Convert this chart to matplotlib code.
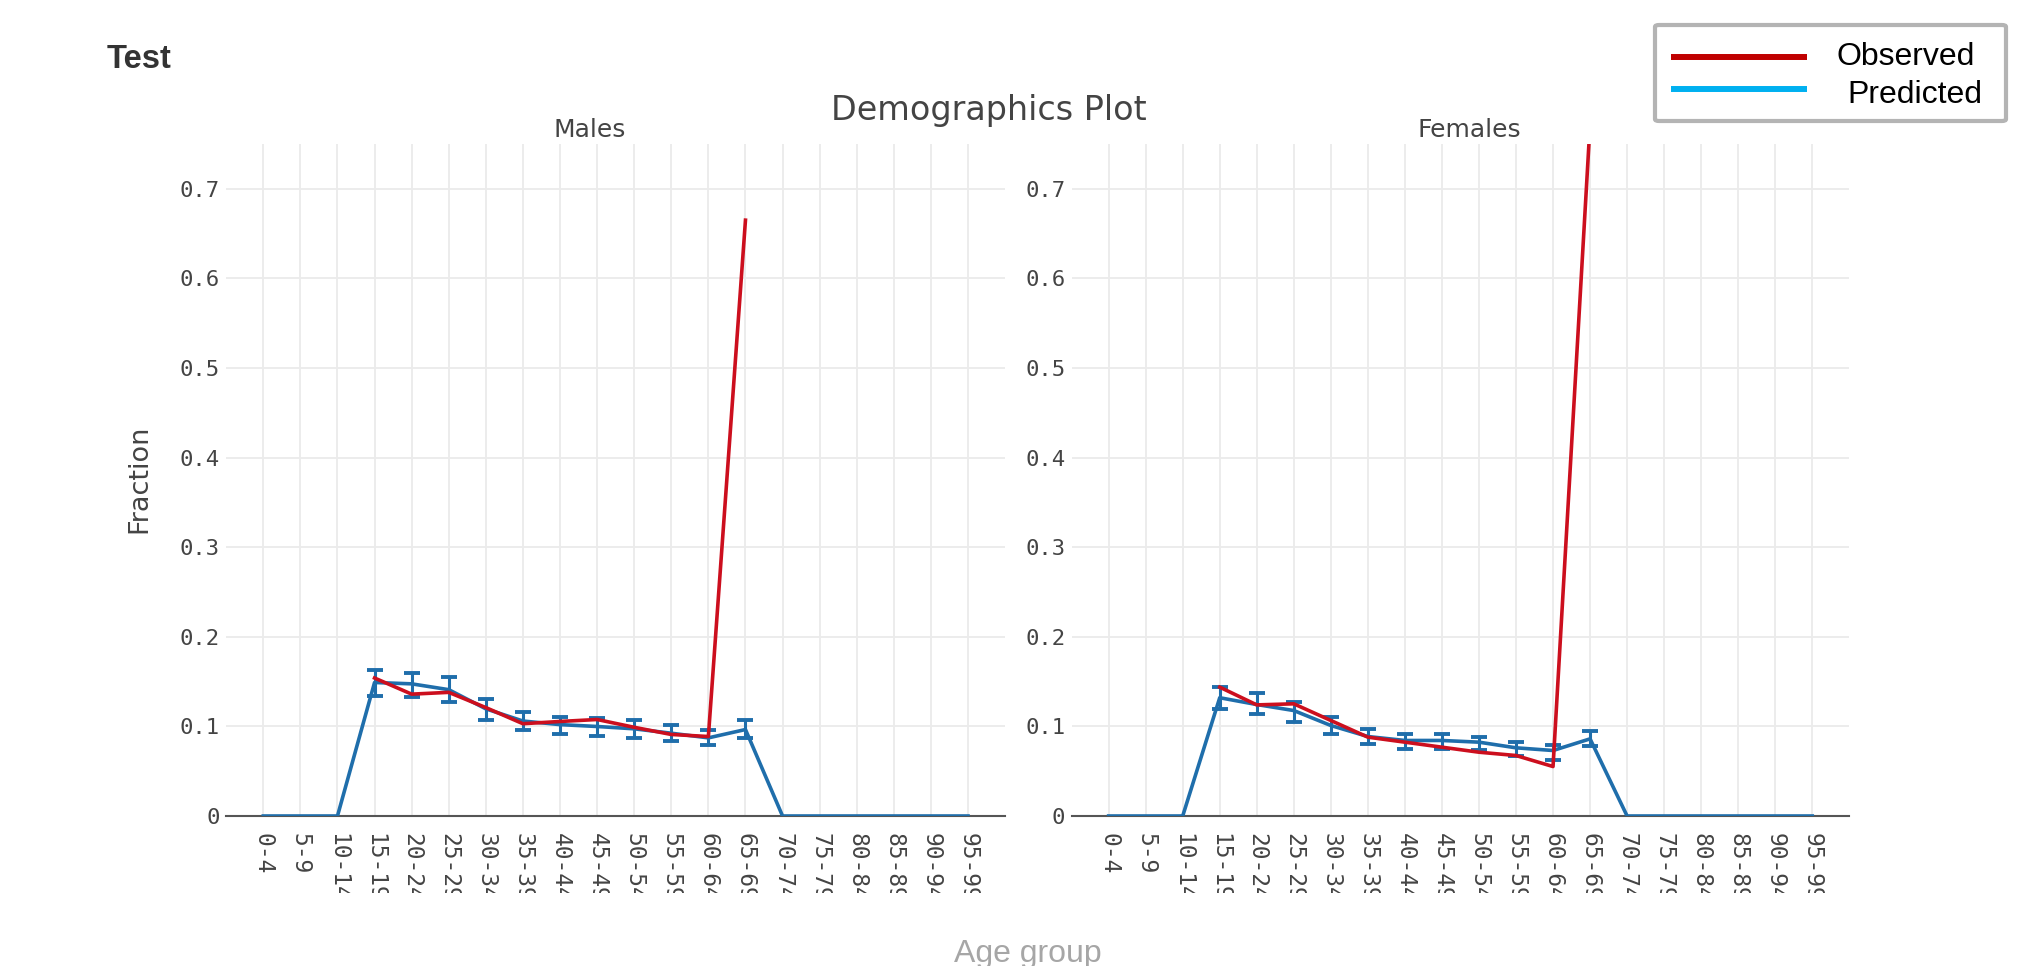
import numpy as np
import matplotlib
matplotlib.use("Agg")
import matplotlib.pyplot as plt
from matplotlib.lines import Line2D
from matplotlib.patches import FancyBboxPatch
from matplotlib.transforms import Bbox

# ---------------- data ----------------
age_groups = ["0-4", "5-9", "10-14", "15-19", "20-24", "25-29", "30-34", "35-39",
              "40-44", "45-49", "50-54", "55-59", "60-64", "65-69", "70-74", "75-79",
              "80-84", "85-89", "90-94", "95-99"]
nan = np.nan
male_observed = [nan, nan, nan, 0.154, 0.136, 0.138, 0.121, 0.103, 0.1055, 0.1077,
                 0.099, 0.091, 0.0887, 0.665, nan, nan, nan, nan, nan, nan]
male_predicted = [0, 0, 0, 0.149, 0.1475, 0.141, 0.1196, 0.106, 0.102, 0.0999,
                  0.0973, 0.0924, 0.0872, 0.0965, 0, 0, 0, 0, 0, 0]
male_pred_low = [nan, nan, nan, 0.134, 0.1326, 0.127, 0.1077, 0.0965, 0.091, 0.0898,
                 0.0872, 0.0835, 0.0787, 0.0873, nan, nan, nan, nan, nan, nan]
male_pred_high = [nan, nan, nan, 0.163, 0.160, 0.155, 0.131, 0.1166, 0.111, 0.1096,
                  0.1066, 0.102, 0.0965, 0.1066, nan, nan, nan, nan, nan, nan]

female_observed = [nan, nan, nan, 0.1438, 0.124, 0.1252, 0.1066, 0.088, 0.0824, 0.0768,
                   0.0712, 0.0675, 0.0552, 0.772, nan, nan, nan, nan, nan, nan]
female_predicted = [0, 0, 0, 0.132, 0.1244, 0.1177, 0.101, 0.0887, 0.0843, 0.0843,
                    0.0824, 0.0761, 0.0731, 0.0861, 0, 0, 0, 0, 0, 0]
female_pred_low = [nan, nan, nan, 0.1196, 0.1133, 0.1047, 0.091, 0.0798, 0.075, 0.075,
                   0.0739, 0.0675, 0.0627, 0.0776, nan, nan, nan, nan, nan, nan]
female_pred_high = [nan, nan, nan, 0.1445, 0.1375, 0.127, 0.110, 0.0973, 0.0917, 0.0917,
                    0.0887, 0.0824, 0.0787, 0.0954, nan, nan, nan, nan, nan, nan]

y_ticks = [0, 0.1, 0.2, 0.3, 0.4, 0.5, 0.6, 0.7]
y_tick_labels = ["0", "0.1", "0.2", "0.3", "0.4", "0.5", "0.6", "0.7"]
panel_titles = ["Males", "Females"]
legend_labels = ["Observed", "Predicted"]

# ---------------- figure ----------------
W, H = 2030, 966
fig = plt.figure(figsize=(W / 100, H / 100), dpi=100)
fig.patch.set_facecolor("white")

def fx(px):
    return px / W

def fy(py):
    return 1 - py / H

RED = "#cc0f1e"
BLUE = "#1f6eab"
TXT = "#444444"
GRID = "#ebebeb"
MONO = "DejaVu Sans Mono"

panels = [
    (226.2, 1005.1, male_observed, male_predicted, male_pred_low, male_pred_high),
    (1071.6, 1849.3, female_observed, female_predicted, female_pred_low, female_pred_high),
]
top_px, bot_px = 144, 816

x = np.arange(len(age_groups))
clip = Bbox.from_extents(0, H - 893, W, H)

for i, (l, r, obs, pred, lo, hi) in enumerate(panels):
    ax = fig.add_axes([fx(l), fy(bot_px), (r - l) / W, (bot_px - top_px) / H])
    ax.set_xlim(-1, 20)
    ax.set_ylim(0, 0.75)
    ax.set_xticks(x)
    ax.set_xticklabels(age_groups, rotation=-90, fontsize=16.5, color=TXT, family=MONO)
    ax.set_yticks(y_ticks)
    ax.set_yticklabels(y_tick_labels, fontsize=16, color=TXT, family=MONO)
    ax.tick_params(axis="x", length=0, pad=12)
    ax.tick_params(axis="y", length=0, pad=4.5)
    ax.grid(True, color=GRID, lw=1.3, zorder=0)
    ax.set_axisbelow(True)
    for s in ["left", "right", "top"]:
        ax.spines[s].set_visible(False)
    ax.spines["bottom"].set_color("#555555")
    ax.spines["bottom"].set_linewidth(1.5)
    for t in ax.xaxis.get_major_ticks():
        t.label1.set_clip_on(True)
        t.label1.set_clip_box(clip)

    pred = np.array(pred, float)
    lo = np.array(lo, float)
    hi = np.array(hi, float)
    m = ~np.isnan(lo)
    ax.errorbar(x[m], pred[m], yerr=[pred[m] - lo[m], hi[m] - pred[m]], fmt="none",
                ecolor=BLUE, elinewidth=2.2, capsize=5.5, capthick=2.8, zorder=3)
    ax.plot(x, pred, color=BLUE, lw=2.6, zorder=3, solid_joinstyle="round")
    ax.plot(x, np.array(obs, float), color=RED, lw=2.6, zorder=4, solid_joinstyle="round")

# panel titles
fig.text(fx(590), fy(137), panel_titles[0], ha="center", va="baseline", fontsize=18,
         color=TXT, family="DejaVu Sans")
fig.text(fx(1469), fy(137), panel_titles[1], ha="center", va="baseline", fontsize=18,
         color=TXT, family="DejaVu Sans")

# titles
fig.text(fx(989), fy(120), "Demographics Plot", ha="center", va="baseline",
         fontsize=24, color=TXT, family="DejaVu Sans")
fig.text(fx(107), fy(68), "Test", ha="left", va="baseline", fontsize=23.5,
         fontweight="bold", color="#333333",
         family=["Liberation Sans", "DejaVu Sans"])

# axis titles
fig.text(fx(139), fy(479), "Fraction", ha="center", va="center", rotation=90,
         fontsize=19.5, color=TXT, family="DejaVu Sans")
fig.text(fx(1028), fy(962), "Age group", ha="center", va="baseline", fontsize=23,
         color="#a6a6a6", family=["Liberation Sans", "DejaVu Sans"])

# legend (separate box in the top-right corner)
box = FancyBboxPatch((fx(1655), fy(121)), fx(1651 + 355) - fx(1655), fy(25) - fy(121),
                     boxstyle="round,pad=0,rounding_size=0.002",
                     transform=fig.transFigure, facecolor="white",
                     edgecolor="#b4b4b4", linewidth=3)
fig.add_artist(box)
fig.add_artist(Line2D([fx(1671), fx(1807)], [fy(57), fy(57)], transform=fig.transFigure,
                      color="#c00000", lw=4.3, solid_capstyle="butt"))
fig.add_artist(Line2D([fx(1671), fx(1807)], [fy(89), fy(89)], transform=fig.transFigure,
                      color="#00b0f0", lw=4.3, solid_capstyle="butt"))
fig.text(fx(1837), fy(65), legend_labels[0], ha="left", va="baseline", fontsize=23,
         color="black", family=["Liberation Sans", "DejaVu Sans"])
fig.text(fx(1847), fy(103), legend_labels[1], ha="left", va="baseline", fontsize=23,
         color="black", family=["Liberation Sans", "DejaVu Sans"])

fig.savefig("out.png", dpi=100)
